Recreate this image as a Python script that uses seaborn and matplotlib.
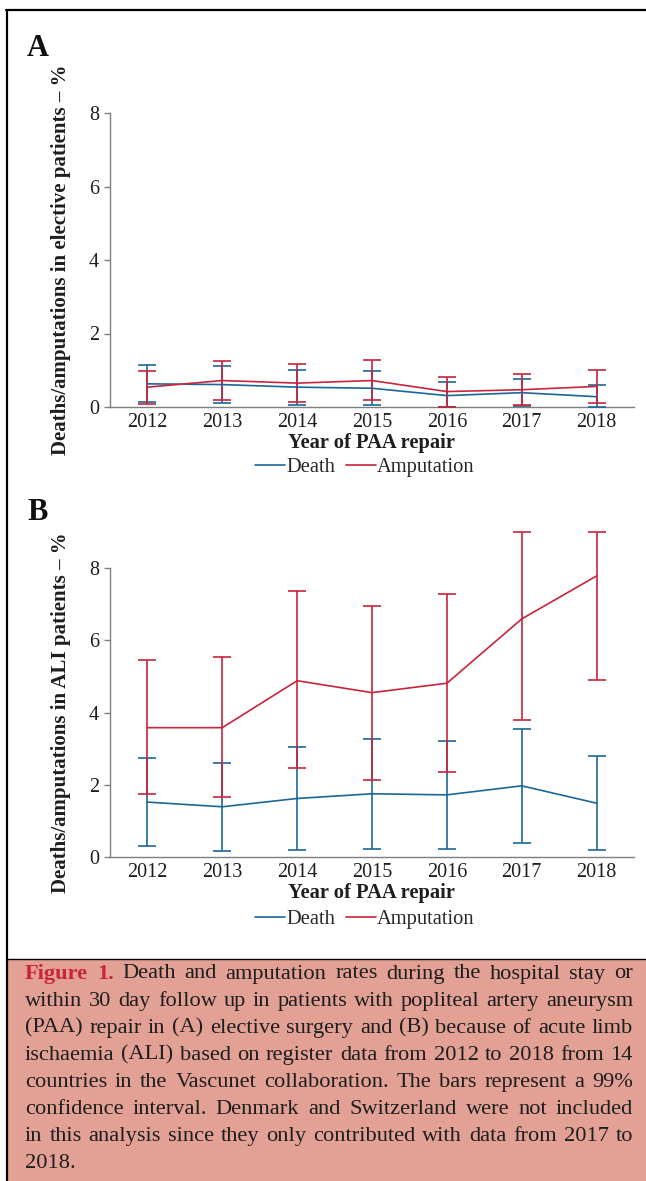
import numpy as np
import pandas as pd
import matplotlib
matplotlib.use("Agg")
import matplotlib.pyplot as plt
import seaborn as sns
from matplotlib.lines import Line2D
from matplotlib.patches import Rectangle

# ---- data -----------------------------------------------------------
years = [2012, 2013, 2014, 2015, 2016, 2017, 2018]

# A: elective patients
elec_death = [0.63, 0.61, 0.54, 0.51, 0.31, 0.39, 0.28]
elec_death_lo = [0.13, 0.12, 0.06, 0.06, 0.00, 0.04, 0.00]
elec_death_hi = [1.15, 1.11, 1.02, 0.98, 0.67, 0.77, 0.60]
elec_amp = [0.54, 0.72, 0.65, 0.72, 0.42, 0.47, 0.56]
elec_amp_lo = [0.07, 0.18, 0.13, 0.19, 0.00, 0.05, 0.11]
elec_amp_hi = [0.99, 1.25, 1.17, 1.27, 0.82, 0.91, 1.01]

# B: ALI patients
ali_death = [1.52, 1.39, 1.62, 1.75, 1.72, 1.97, 1.49]
ali_death_lo = [0.30, 0.16, 0.19, 0.21, 0.21, 0.40, 0.18]
ali_death_hi = [2.75, 2.59, 3.05, 3.27, 3.21, 3.55, 2.80]
ali_amp = [3.58, 3.58, 4.88, 4.55, 4.81, 6.59, 7.78]
ali_amp_lo = [1.74, 1.65, 2.46, 2.12, 2.34, 3.79, 4.89]
ali_amp_hi = [5.44, 5.53, 7.35, 6.94, 7.28, 9.00, 9.00]

yticks = [0, 2, 4, 6, 8]
series_names = ["Death", "Amputation"]

BLUE = "#1b6797"
RED = "#c8243c"
GREY = "#7f7f7f"
INK = "#1e1e1e"
CAPTION_BG = "#e2a194"

SERIF = ["Liberation Serif", "DejaVu Serif"]

caption_lines = [
    "Figure 1. Death and amputation rates during the hospital stay or",
    "within 30 day follow up in patients with popliteal artery aneurysm",
    "(PAA) repair in (A) elective surgery and (B) because of acute limb",
    "ischaemia (ALI) based on register data from 2012 to 2018 from 14",
    "countries in the Vascunet collaboration. The bars represent a 99%",
    "confidence interval. Denmark and Switzerland were not included",
    "in this analysis since they only contributed with data from 2017 to",
    "2018.",
]

sns.set_style("white")
plt.rcParams["font.family"] = SERIF

W, H = 646, 1181
fig = plt.figure(figsize=(W / 100, H / 100), dpi=100)


def fx(px):
    return px / W


def fy(py):
    return 1 - py / H


def panel(top, bottom, death, d_lo, d_hi, amp, a_lo, a_hi, ylabel, letter,
          letter_y, legend_y):
    ax = fig.add_axes([fx(110), fy(bottom), fx(634) - fx(110), (bottom - top) / H])
    df = pd.DataFrame({
        "year": years * 2,
        "value": death + amp,
        "series": ["Death"] * len(years) + ["Amputation"] * len(years),
    })
    pal = {"Death": BLUE, "Amputation": RED}
    for name, vals, lo, hi in [("Death", death, d_lo, d_hi),
                               ("Amputation", amp, a_lo, a_hi)]:
        vals = np.array(vals)
        err = [vals - np.array(lo), np.array(hi) - vals]
        ax.errorbar(years, vals, yerr=err, fmt="none", ecolor=pal[name],
                    elinewidth=1.2, capsize=6.5, capthick=1.2, clip_on=False,
                    zorder=3)
    sns.lineplot(data=df, x="year", y="value", hue="series",
                 hue_order=series_names, palette=pal, linewidth=1.2,
                 legend=False, ax=ax, zorder=4)
    ax.set_xlim(2011.5, 2018.5)
    ax.set_ylim(0, 8)
    ax.set_xticks(years)
    ax.set_xticklabels([str(y) for y in years])
    ax.set_yticks(yticks)
    for s in ["top", "right"]:
        ax.spines[s].set_visible(False)
    for s in ["left", "bottom"]:
        ax.spines[s].set_color(GREY)
        ax.spines[s].set_linewidth(1.0)
    ax.tick_params(axis="x", length=0, pad=4, labelsize=14.5, colors=INK)
    ax.tick_params(axis="y", length=4, width=1.0, color=GREY, pad=4,
                   labelsize=14.5, labelcolor=INK, left=True)
    ax.set_xlabel("Year of PAA repair", fontsize=14.8, fontweight="bold",
                  labelpad=1, color=INK)
    ax.set_ylabel(ylabel, fontsize=15, fontweight="bold", color=INK)
    ax.yaxis.set_label_coords(-0.074, 0.5)
    ax.grid(False)

    fig.text(fx(27), fy(letter_y), letter, fontsize=22, fontweight="bold",
             va="center", ha="left", color="#111111")

    handles = [Line2D([0], [0], color=BLUE, lw=1.2),
               Line2D([0], [0], color=RED, lw=1.2)]
    ax.legend(handles, series_names, loc="center",
              bbox_to_anchor=(fx(365), fy(legend_y)),
              bbox_transform=fig.transFigure, ncol=2, frameon=False,
              fontsize=14.8, handlelength=1.45, handletextpad=0.08,
              columnspacing=0.5, borderpad=0)
    return ax


panel(113, 407, elec_death, elec_death_lo, elec_death_hi,
      elec_amp, elec_amp_lo, elec_amp_hi,
      "Deaths/amputations in elective patients \u2013 %", "A", 48, 467)
panel(568, 857, ali_death, ali_death_lo, ali_death_hi,
      ali_amp, ali_amp_lo, ali_amp_hi,
      "Deaths/amputations in ALI patients \u2013 %", "B", 513, 919)

# frame and caption box
fig.add_artist(Line2D([fx(6), fx(W)], [fy(10), fy(10)], color="black", lw=1.6))
fig.add_artist(Line2D([fx(6.5), fx(6.5)], [fy(10), 0], color="black", lw=1.6))
fig.add_artist(Rectangle((fx(7.5), 0), 1 - fx(7.5), fy(959), facecolor=CAPTION_BG,
                         edgecolor="none", zorder=-1))
fig.add_artist(Line2D([fx(7), fx(W)], [fy(959), fy(959)], color="black", lw=1.0))

# justified caption text
renderer = fig.canvas.get_renderer()
x0, x1 = 25, 633
cap_size = 16.1
line_y0, line_dy = 974, 27.1
for i, line in enumerate(caption_lines):
    words = line.split(" ")
    ypos = fy(line_y0 + i * line_dy)
    texts = []
    for j, w in enumerate(words):
        bold = i == 0 and j < 2
        t = fig.text(0, ypos, w, fontsize=cap_size, va="center", ha="left",
                     color=RED if bold else INK,
                     fontweight="bold" if bold else "normal")
        texts.append(t)
    widths = [t.get_window_extent(renderer).width for t in texts]
    if i == len(caption_lines) - 1 or len(words) == 1:
        gap = renderer.points_to_pixels(cap_size) * 0.25
    else:
        gap = max((x1 - x0 - sum(widths)) / (len(words) - 1), 2.0)
    xpos = x0
    for t, wd in zip(texts, widths):
        t.set_x(fx(xpos))
        xpos += wd + gap

fig.savefig("out.png", dpi=100)
